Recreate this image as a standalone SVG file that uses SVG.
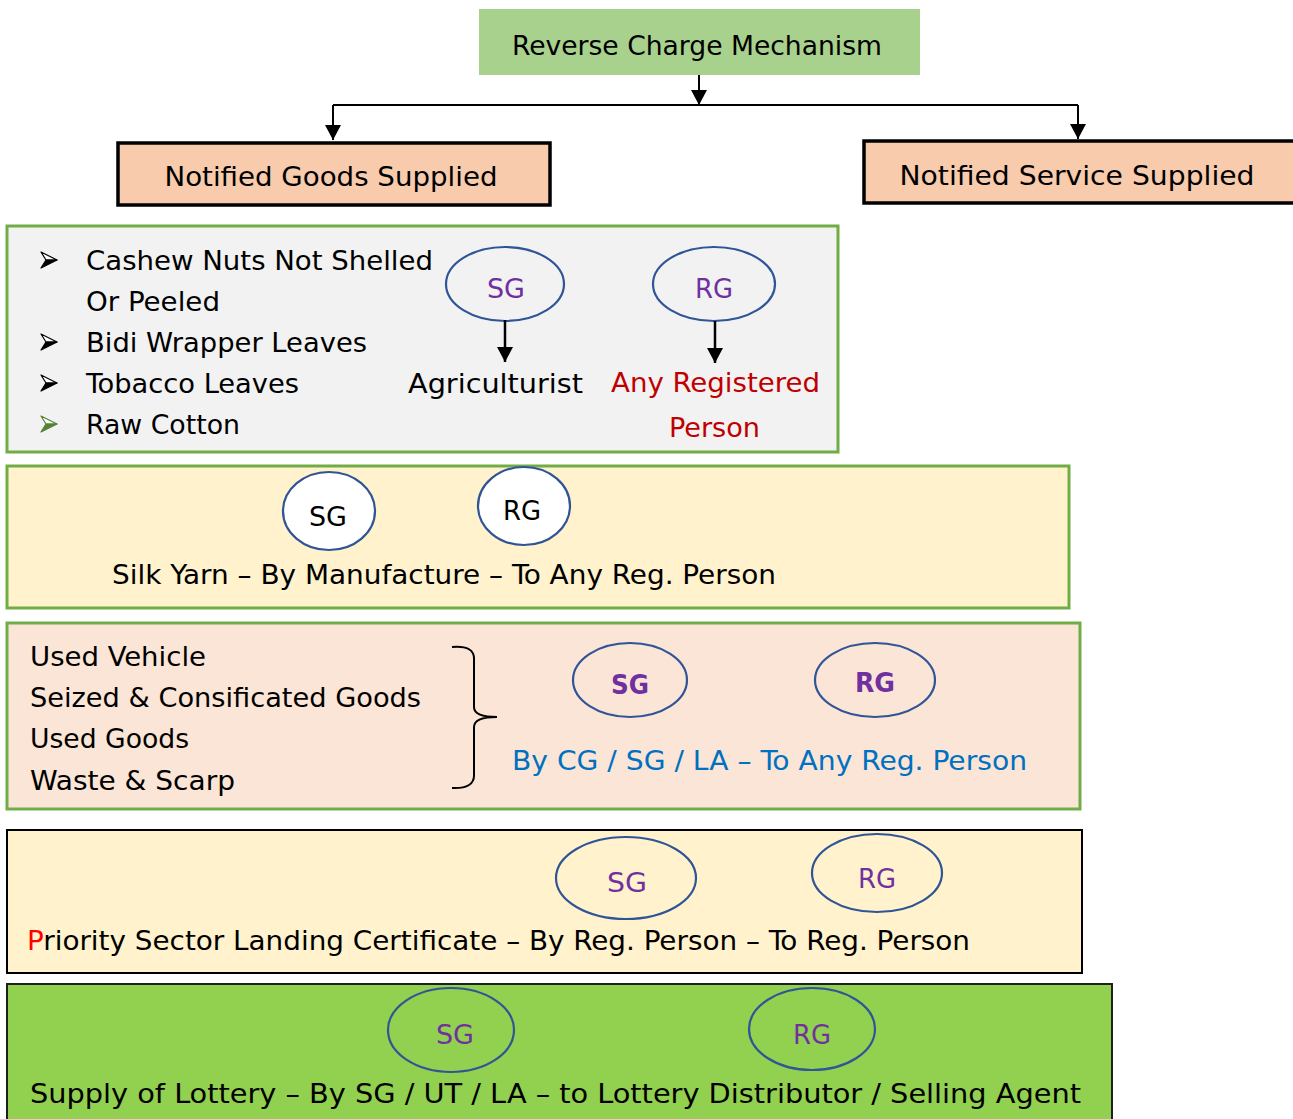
<svg xmlns="http://www.w3.org/2000/svg" width="1293" height="1119" viewBox="0 0 1293 1119">
  <style>
    text { font-family: "DejaVu Sans Condensed", "DejaVu Sans", sans-serif; font-size: 27px; fill: #000; }
    .mid { text-anchor: middle; }
    .panel { stroke: #70ad47; stroke-width: 3; }
    .hdr { fill: #f8cbad; stroke: #000; stroke-width: 3.5; }
    .tag { fill: none; stroke: #2f5597; stroke-width: 2.2; }
    .tagw { fill: #fff; stroke: #2f5597; stroke-width: 2.2; }
    .purple { fill: #7030a0; }
    .red { fill: #c00000; }
    .blue { fill: #0070c0; }
    .link { stroke: #000; stroke-width: 2; fill: none; }
    .link3 { stroke: #000; stroke-width: 2.5; fill: none; }
    .bul-top { fill: #fff; stroke: #000; stroke-width: 1.2; stroke-linejoin: round; }
    .bul-bot { fill: #000; stroke: #000; stroke-width: 1.2; stroke-linejoin: round; }
  </style>
  <defs>
    <marker id="arrow" viewBox="0 0 10 10" refX="10" refY="5" markerWidth="15" markerHeight="16" markerUnits="userSpaceOnUse" orient="auto" preserveAspectRatio="none">
      <path d="M0,0 L10,5 L0,10 z" fill="#000"/>
    </marker>
    <!-- two-tone arrowhead bullet -->
    <g id="bullet">
      <path class="bul-top" d="M0,-8 L16,0 L5,0 Z"/>
      <path class="bul-bot" d="M5,0 L16,0 L0,8 Z"/>
    </g>
    <g id="bullet-green">
      <path d="M0,-8 L16,0 L5,0 Z" fill="#fff" stroke="#548235" stroke-width="1.2" stroke-linejoin="round"/>
      <path d="M5,0 L16,0 L0,8 Z" fill="#548235" stroke="#548235" stroke-width="1.2" stroke-linejoin="round"/>
    </g>
  </defs>

  <rect width="1293" height="1119" fill="#fff"/>

  <!-- connectors -->
  <g id="connectors">
    <line class="link" x1="699" y1="75" x2="699" y2="105" marker-end="url(#arrow)"/>
    <polyline class="link" points="333,105 1078,105"/>
    <line class="link" x1="333" y1="105" x2="333" y2="140" marker-end="url(#arrow)"/>
    <line class="link" x1="1078" y1="105" x2="1078" y2="139" marker-end="url(#arrow)"/>
  </g>

  <!-- root -->
  <g id="root">
    <rect x="479" y="9" width="441" height="66" fill="#a9d18e"/>
    <text x="697" y="55" class="mid" textLength="370" lengthAdjust="spacingAndGlyphs">Reverse Charge Mechanism</text>
  </g>

  <g id="goods">
    <rect class="hdr" x="118" y="143" width="432" height="62"/>
    <text x="331" y="186" class="mid" textLength="333" lengthAdjust="spacingAndGlyphs">Notified Goods Supplied</text>
  </g>

  <g id="service">
    <rect class="hdr" x="864" y="141" width="440" height="62"/>
    <text x="1077" y="185" class="mid" textLength="355" lengthAdjust="spacingAndGlyphs">Notified Service Supplied</text>
  </g>

  <!-- agricultural goods -->
  <g id="agri">
    <rect class="panel" x="7" y="226" width="831" height="226" fill="#f2f2f2"/>
    <use href="#bullet" x="41" y="260"/>
    <use href="#bullet" x="41" y="342"/>
    <use href="#bullet" x="41" y="383"/>
    <use href="#bullet-green" x="41" y="424"/>
    <text x="86" y="270" textLength="347" lengthAdjust="spacingAndGlyphs">Cashew Nuts Not Shelled</text>
    <text x="86" y="311" textLength="134" lengthAdjust="spacingAndGlyphs">Or Peeled</text>
    <text x="86" y="352" textLength="281" lengthAdjust="spacingAndGlyphs">Bidi Wrapper Leaves</text>
    <text x="86" y="393" textLength="213" lengthAdjust="spacingAndGlyphs">Tobacco Leaves</text>
    <text x="86" y="434" textLength="154" lengthAdjust="spacingAndGlyphs">Raw Cotton</text>
    <ellipse class="tag" cx="505" cy="284" rx="59" ry="37"/>
    <text x="506" y="298" class="mid purple" textLength="38" lengthAdjust="spacingAndGlyphs">SG</text>
    <ellipse class="tag" cx="714" cy="284" rx="61" ry="37"/>
    <text x="714" y="298" class="mid purple" textLength="38" lengthAdjust="spacingAndGlyphs">RG</text>
    <line class="link3" x1="505" y1="320" x2="505" y2="362" marker-end="url(#arrow)"/>
    <line class="link3" x1="715" y1="321" x2="715" y2="363" marker-end="url(#arrow)"/>
    <text x="408" y="393" textLength="175" lengthAdjust="spacingAndGlyphs">Agriculturist</text>
    <text x="611" y="392" class="red" textLength="209" lengthAdjust="spacingAndGlyphs">Any Registered</text>
    <text x="669" y="437" class="red" textLength="91" lengthAdjust="spacingAndGlyphs">Person</text>
  </g>

  <!-- silk yarn -->
  <g id="silk">
    <rect class="panel" x="7" y="466" width="1062" height="142" fill="#fff2cc"/>
    <ellipse class="tagw" cx="329" cy="511" rx="46" ry="39"/>
    <text x="328" y="526" class="mid" textLength="38" lengthAdjust="spacingAndGlyphs">SG</text>
    <ellipse class="tagw" cx="524" cy="506" rx="46" ry="39"/>
    <text x="522" y="520" class="mid" textLength="38" lengthAdjust="spacingAndGlyphs">RG</text>
    <text x="112" y="584" textLength="664" lengthAdjust="spacingAndGlyphs">Silk Yarn – By Manufacture – To Any Reg. Person</text>
  </g>

  <!-- used / seized goods -->
  <g id="used">
    <rect class="panel" x="7" y="623" width="1073" height="186" fill="#fbe5d6"/>
    <text x="30" y="666" textLength="176" lengthAdjust="spacingAndGlyphs">Used Vehicle</text>
    <text x="30" y="707" textLength="391" lengthAdjust="spacingAndGlyphs">Seized &amp; Consificated Goods</text>
    <text x="30" y="748" textLength="159" lengthAdjust="spacingAndGlyphs">Used Goods</text>
    <text x="30" y="790" textLength="205" lengthAdjust="spacingAndGlyphs">Waste &amp; Scarp</text>
    <path d="M452,647 Q475,645 474,660 L474,707 Q474,717 497,717 Q474,717 474,727 L474,774 Q475,789 452,788" fill="none" stroke="#000" stroke-width="2"/>
    <ellipse class="tag" cx="630" cy="680" rx="57" ry="37"/>
    <text x="630" y="694" class="mid purple" font-weight="bold" textLength="38" lengthAdjust="spacingAndGlyphs">SG</text>
    <ellipse class="tag" cx="875" cy="680" rx="60" ry="37"/>
    <text x="875" y="692" class="mid purple" font-weight="bold" textLength="40" lengthAdjust="spacingAndGlyphs">RG</text>
    <text x="512" y="770" class="blue" textLength="515" lengthAdjust="spacingAndGlyphs">By CG / SG / LA – To Any Reg. Person</text>
  </g>

  <!-- priority sector -->
  <g id="psl">
    <rect x="7" y="830" width="1075" height="143" fill="#fff2cc" stroke="#000" stroke-width="2"/>
    <ellipse class="tag" cx="626" cy="878" rx="70" ry="41"/>
    <text x="627" y="892" class="mid purple" textLength="40" lengthAdjust="spacingAndGlyphs">SG</text>
    <ellipse class="tag" cx="877" cy="873" rx="65" ry="39"/>
    <text x="877" y="888" class="mid purple" textLength="38" lengthAdjust="spacingAndGlyphs">RG</text>
    <text x="27" y="950" textLength="943" lengthAdjust="spacingAndGlyphs"><tspan fill="#ff0000">P</tspan>riority Sector Landing Certificate – By Reg. Person – To Reg. Person</text>
  </g>

  <!-- lottery -->
  <g id="lottery">
    <rect x="7" y="984" width="1105" height="140" fill="#92d050" stroke="#1f1f1f" stroke-width="2"/>
    <ellipse class="tag" cx="451" cy="1030" rx="63" ry="42"/>
    <text x="455" y="1044" class="mid purple" textLength="38" lengthAdjust="spacingAndGlyphs">SG</text>
    <ellipse class="tag" cx="812" cy="1029" rx="63" ry="41"/>
    <text x="812" y="1044" class="mid purple" textLength="38" lengthAdjust="spacingAndGlyphs">RG</text>
    <text x="30" y="1103" textLength="1051" lengthAdjust="spacingAndGlyphs">Supply of Lottery – By SG / UT / LA – to Lottery Distributor / Selling Agent</text>
  </g>
</svg>
